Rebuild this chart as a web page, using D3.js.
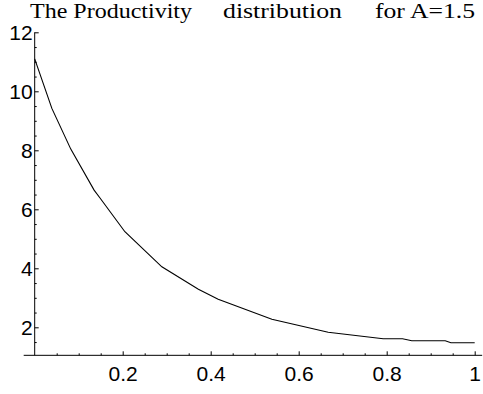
<!DOCTYPE html>
<html>
<head>
<meta charset="utf-8">
<script src="https://cdn.jsdelivr.net/npm/d3@7"></script>
<style>
  body { margin: 0; background: #fff; }
  svg { display: block; }
  .tick text { font-family: "Liberation Sans", Arial, sans-serif; font-size: 21px; fill: #000; }
  .title { font-family: "Liberation Serif", serif; font-size: 20px; fill: #000; }
</style>
</head>
<body>
<script>
// productivity curve
var xs = [0, 0.039, 0.082, 0.135, 0.148, 0.205, 0.289, 0.372, 0.417, 0.539, 0.667, 0.792, 0.836, 0.857, 0.933, 0.946, 1.0];
var ys = [11.10, 9.42, 8.04, 6.65, 6.39, 5.24, 4.05, 3.29, 2.95, 2.27, 1.83, 1.61, 1.61, 1.545, 1.545, 1.478, 1.478];

// ticks
var xMajor = [0.2, 0.4, 0.6, 0.8, 1];
var xTickLabels = ["0.2", "0.4", "0.6", "0.8", "1"];
var xMinor = [0.05, 0.1, 0.15, 0.25, 0.3, 0.35, 0.45, 0.5, 0.55, 0.65, 0.7, 0.75, 0.85, 0.9, 0.95];
var yMajor = [2, 4, 6, 8, 10, 12];
var yTickLabels = ["2", "4", "6", "8", "10", "12"];
var yMinor = [1.5, 2.5, 3, 3.5, 4.5, 5, 5.5, 6.5, 7, 7.5, 8.5, 9, 9.5, 10.5, 11, 11.5];

// title pieces
var titleParts = ["The Productivity", "distribution", "for A=1.5"];

var w = 483, h = 394;

var svg = d3.select("body").append("svg")
  .attr("width", w)
  .attr("height", h);

var x = d3.scaleLinear().domain([0, 1]).range([34.7, 474.7]);
var y = d3.scaleLinear().domain([2, 12]).range([327.3, 32.3]);

// where the axes cross (Mathematica axes origin)
var originY = 1.05;
var axisY = y(originY);

// x axis, major then minor ticks
svg.append("g")
  .attr("transform", "translate(0," + axisY + ")")
  .call(d3.axisBottom(x).tickValues(xMajor)
    .tickSize(-4).tickPadding(11)
    .tickFormat(function(d, i) { return xTickLabels[i]; }));
svg.append("g")
  .attr("transform", "translate(0," + axisY + ")")
  .call(d3.axisBottom(x).tickValues(xMinor).tickSize(-2).tickFormat(""));

// y axis
svg.append("g")
  .attr("transform", "translate(" + x(0) + ",0)")
  .call(d3.axisLeft(y).tickValues(yMajor)
    .tickSize(-4).tickPadding(2)
    .tickFormat(function(d, i) { return yTickLabels[i]; }));
svg.append("g")
  .attr("transform", "translate(" + x(0) + ",0)")
  .call(d3.axisLeft(y).tickValues(yMinor).tickSize(-2).tickFormat(""));

svg.selectAll(".domain").remove();
svg.selectAll(".tick line").attr("stroke", "#000");

// axis lines
svg.append("line")
  .attr("x1", x(-0.025)).attr("x2", x(1.017))
  .attr("y1", axisY).attr("y2", axisY)
  .attr("stroke", "#000");
svg.append("line")
  .attr("x1", x(0)).attr("x2", x(0))
  .attr("y1", y(12)).attr("y2", axisY)
  .attr("stroke", "#000");

// curve
var line = d3.line()
  .x(function(d, i) { return x(xs[i]); })
  .y(function(d, i) { return y(ys[i]); });

svg.append("path")
  .datum(xs)
  .attr("d", line)
  .attr("fill", "none")
  .attr("stroke", "#000")
  .attr("stroke-width", 1.1);

// title
var titleX = [30, 223, 375];
var titleLen = [162, 119, 100];
svg.selectAll(".title")
  .data(titleParts)
  .enter()
  .append("text")
  .attr("class", "title")
  .attr("x", function(d, i) { return titleX[i]; })
  .attr("y", 18)
  .attr("textLength", function(d, i) { return titleLen[i]; })
  .attr("lengthAdjust", "spacingAndGlyphs")
  .text(function(d) { return d; });
</script>
</body>
</html>
